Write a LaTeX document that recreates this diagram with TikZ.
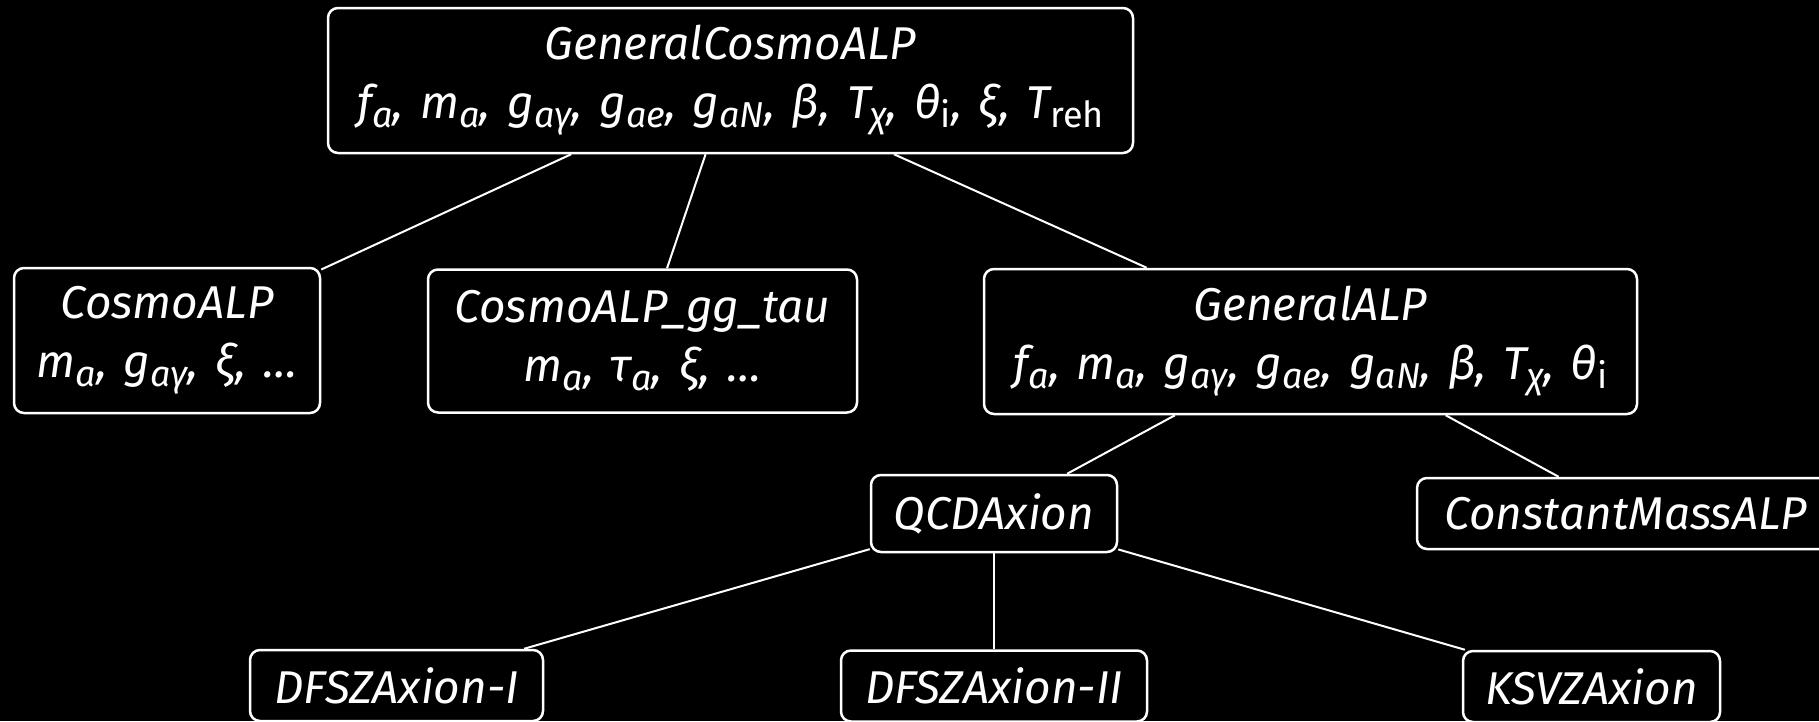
\documentclass[tikz,border=0pt]{standalone}
\usepackage{fontspec}
\setmainfont{Fira Sans}
\newcommand\sbs[1]{\raisebox{-0.38ex}{\fontsize{36}{36}\selectfont #1}}
\newcommand\sbu[1]{\raisebox{-0.38ex}{\fontsize{36}{36}\selectfont\upshape #1}}
\newcommand\cs{,\hspace{0.36em}}
\begin{document}
\begin{tikzpicture}[x=1pt,y=-1pt,
  box/.style={draw=white,fill=black,text=white,line width=2.5pt,rounded corners=10pt,
    inner sep=0pt,align=center,font=\fontsize{46}{59}\selectfont\itshape},
  link/.style={draw=white,line width=2pt}]
\useasboundingbox (0,0) rectangle (1819,721);
\clip (0,0) rectangle (1819,721);
\fill[black] (0,0) rectangle (1819,721);
\node[box,minimum width=805pt,minimum height=145pt] (gca) at (730.5,80.5)
  {GeneralCosmoALP\\f\sbs{a}\cs m\sbs{a}\cs g\sbs{aγ}\cs g\sbs{ae}\cs g\sbs{aN}\cs β\cs T\sbs{χ}\cs θ\sbu{i}\cs ξ\cs T\sbu{reh}};
\node[box,minimum width=306pt,minimum height=145pt] (calp) at (167,340.5)
  {CosmoALP\\m\sbs{a}\cs g\sbs{aγ}\cs ξ\cs \ldots};
\node[box,minimum width=429pt,minimum height=143pt] (tau) at (642.5,341)
  {CosmoALP\_gg\_tau\\m\sbs{a}\cs τ\sbs{a}\cs ξ\cs \ldots};
\node[box,minimum width=653pt,minimum height=145pt] (galp) at (1310.5,341.5)
  {GeneralALP\\f\sbs{a}\cs m\sbs{a}\cs g\sbs{aγ}\cs g\sbs{ae}\cs g\sbs{aN}\cs β\cs T\sbs{χ}\cs θ\sbu{i}};
\node[box,minimum width=246pt,minimum height=77pt] (qcd) at (994,513.5) {QCDAxion};
\node[box,minimum width=418pt,minimum height=71pt] (cm) at (1626,513.5) {ConstantMassALP};
\node[box,minimum width=293pt,minimum height=71pt] (d1) at (396.5,685.5) {DFSZAxion-I};
\node[box,minimum width=306pt,minimum height=71pt] (d2) at (994,686) {DFSZAxion-II};
\node[box,minimum width=257pt,minimum height=71pt] (ksvz) at (1591.5,686.5) {KSVZAxion};
\draw[link] (gca) -- (calp);
\draw[link] (gca) -- (tau);
\draw[link] (gca) -- (galp);
\draw[link] (galp) -- (qcd);
\draw[link] (galp) -- (cm);
\draw[link] (qcd) -- (d1);
\draw[link] (qcd) -- (d2);
\draw[link] (qcd) -- (ksvz);
\end{tikzpicture}
\end{document}
